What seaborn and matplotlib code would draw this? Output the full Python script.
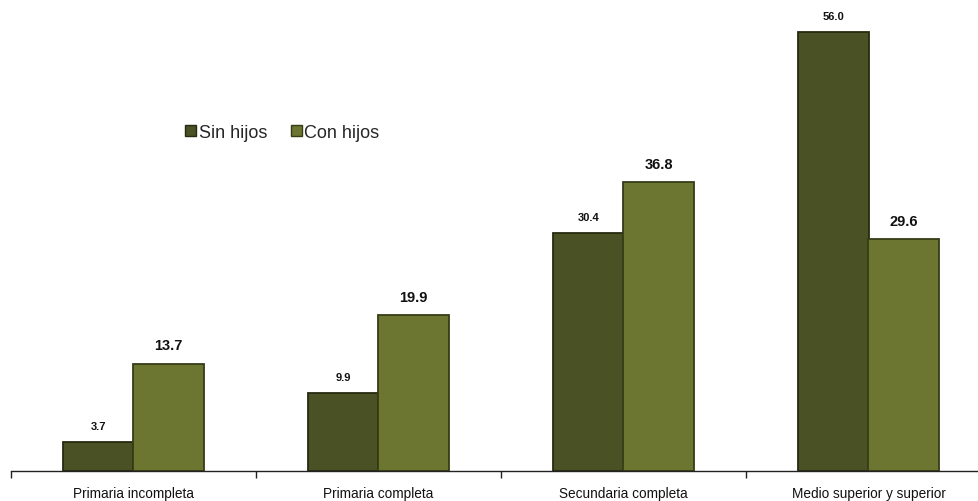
import matplotlib
matplotlib.use("Agg")
import matplotlib.pyplot as plt
import seaborn as sns
import pandas as pd
from matplotlib.patches import Patch

categories = ["Primaria incompleta", "Primaria completa", "Secundaria completa", "Medio superior y superior"]
series_names = ["Sin hijos", "Con hijos"]
sin_hijos = [3.7, 9.9, 30.4, 56.0]
con_hijos = [13.7, 19.9, 36.8, 29.6]

colors = ["#4a5124", "#6c7631"]
edges = ["#262b10", "#363c16"]

df = pd.DataFrame({
    "cat": categories * 2,
    "serie": [series_names[0]] * 4 + [series_names[1]] * 4,
    "val": sin_hijos + con_hijos,
})

sns.set_style("white")
plt.rcParams["font.family"] = ["Liberation Sans", "DejaVu Sans"]

fig = plt.figure(figsize=(9.79, 5.02), dpi=100)
ax = fig.add_axes([11/979, 30/502, 980/979, 472/502])

sns.barplot(data=df, x="cat", y="val", hue="serie", order=categories,
            hue_order=series_names, palette=colors, width=0.572,
            saturation=1, ax=ax, legend=False)

for cont, ec, fs in zip(ax.containers, edges, [8, 10.5]):
    for p in cont:
        p.set_edgecolor(ec)
        p.set_linewidth(1.3)
    ax.bar_label(cont, fmt="%.1f", padding=8, fontsize=fs, fontweight="bold", color="#111111")

ax.set_xlim(-0.5, 3.5)
ax.set_ylim(0, 60.2)
ax.set_xlabel("")
ax.set_ylabel("")
ax.set_yticks([])
for s in ["top", "right", "left"]:
    ax.spines[s].set_visible(False)
ax.spines["bottom"].set_color("#222222")
ax.spines["bottom"].set_linewidth(1)
ax.tick_params(axis="x", which="major", bottom=False, length=0, labelsize=9.8, pad=11, colors="#111111")
ax.set_xticks([-0.5, 0.5, 1.5, 2.5, 3.5], minor=True)
ax.tick_params(axis="x", which="minor", bottom=True, direction="out", length=5, width=1, color="#222222")

handles = [Patch(facecolor=c, edgecolor=e) for c, e in zip(colors, edges)]
ax.legend(handles, series_names, loc="center", bbox_to_anchor=(0.277, 0.718), ncol=2,
          frameon=False, fontsize=13, handlelength=0.6, handleheight=0.6,
          handletextpad=0.15, columnspacing=1.3)

fig.savefig("out.png", dpi=100)
